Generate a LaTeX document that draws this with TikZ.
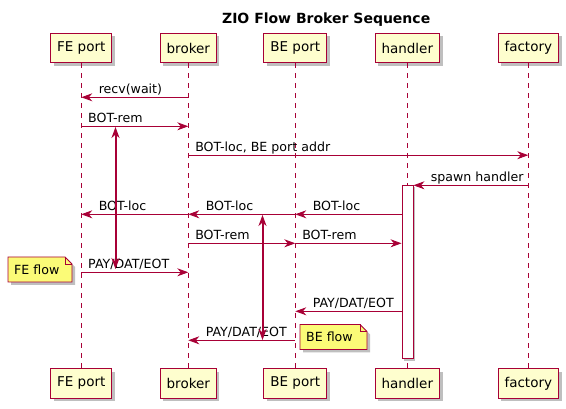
\documentclass[tikz,border=0pt]{standalone}
\usepackage{fontspec}
\setmainfont{DejaVu Sans}
\usetikzlibrary{arrows.meta, shadows, positioning}
\definecolor{umlred}{HTML}{A80036}
\definecolor{umlfill}{HTML}{FEFECE}
\definecolor{notefill}{HTML}{FBFB77}

\begin{document}
\begin{tikzpicture}[x=1pt, y=-1pt, >={Stealth[length=11pt, width=8pt, inset=3.5pt]}]
        \tikzstyle{part} = [rectangle, draw=umlred, fill=umlfill, line width=0.9pt, minimum height=29.5pt, inner xsep=6.5pt, font=\fontsize{13.5}{16}\selectfont, drop shadow={shadow xshift=3pt, shadow yshift=-3pt, opacity=0.25, fill=black}]
        \tikzstyle{life} = [draw=umlred, line width=0.8pt, dash pattern=on 5pt off 5pt]
        \tikzstyle{msg} = [draw=umlred, line width=0.9pt, ->]
        \tikzstyle{flow} = [draw=umlred, line width=2pt, <->]
        \tikzstyle{lbl} = [anchor=base west, yshift=4pt, inner sep=0pt, text=black, font=\fontsize{12.6}{15}\selectfont]
        \tikzstyle{actbar} = [rectangle, draw=umlred, fill=white, line width=0.9pt, minimum width=11pt, minimum height=173.5pt, inner sep=0pt, drop shadow={shadow xshift=2pt, shadow yshift=-2pt, opacity=0.25, fill=black}]
        \tikzstyle{note} = [draw=umlred, fill=notefill, line width=0.9pt, drop shadow={shadow xshift=3pt, shadow yshift=-3pt, opacity=0.25, fill=black}]
        \tikzstyle{notetext} = [anchor=west, inner sep=0pt, font=\fontsize{12.6}{15}\selectfont]

        \useasboundingbox (0,0) rectangle (566,409);

        \node [anchor=base, font=\fontsize{14}{16}\selectfont\bfseries] (title) at (326.2,23.3) {ZIO Flow Broker Sequence};

        % participants, top and bottom
        \node [part] (fe) at (81.3,48) {FE port};
        \node [part] (broker) at (188.3,48) {broker};
        \node [part] (bep) at (295.3,48) {BE port};
        \node [part] (handler) at (407.3,48) {handler};
        \node [part] (factory) at (528.3,48) {factory};

        \node [part] (feb) at (81.3,383.3) {FE port};
        \node [part] (brokerb) at (188.3,383.3) {broker};
        \node [part] (bepb) at (295.3,383.3) {BE port};
        \node [part] (handlerb) at (407.3,383.3) {handler};
        \node [part] (factoryb) at (528.3,383.3) {factory};

        \draw [life] (fe) -- (feb);
        \draw [life] (broker) -- (brokerb);
        \draw [life] (bep) -- (bepb);
        \draw [life] (handler) -- (handlerb);
        \draw [life] (factory) -- (factoryb);

        \node [actbar] (act) at (407.5,272) {};

        % message rows
        \coordinate (r1) at (0,97.3);
        \coordinate (r2) at (0,126.3);
        \coordinate (r3) at (0,155.2);
        \coordinate (r4) at (0,185.3);
        \coordinate (r5) at (0,214.3);
        \coordinate (r6) at (0,243.3);
        \coordinate (r7) at (0,272.3);
        \coordinate (r8) at (0,311.3);
        \coordinate (r9) at (0,340.3);

        \draw [msg] (broker |- r1) -- (fe |- r1) node [lbl, pos=1, xshift=17pt] {recv(wait)};
        \draw [msg] (fe |- r2) -- (broker |- r2) node [lbl, pos=0, xshift=6.5pt] {BOT-rem};
        \draw [msg] (broker |- r3) -- (factory |- r3) node [lbl, pos=0, xshift=6.5pt] {BOT-loc, BE port addr};
        \draw [msg] (factory |- r4) -- (act.east |- r4) node [lbl, pos=1, xshift=17pt] {spawn handler};
        \draw [msg] (act.west |- r5) -- (bep |- r5) node [lbl, pos=1, xshift=17pt] {BOT-loc};
        \draw [msg] (bep |- r5) -- (broker |- r5) node [lbl, pos=1, xshift=17pt] {BOT-loc};
        \draw [msg] (broker |- r5) -- (fe |- r5) node [lbl, pos=1, xshift=17pt] {BOT-loc};
        \draw [msg] (broker |- r6) -- (bep |- r6) node [lbl, pos=0, xshift=6.5pt] {BOT-rem};
        \draw [msg] (bep |- r6) -- (act.west |- r6) node [lbl, pos=0, xshift=6.5pt] {BOT-rem};
        \draw [msg] (fe |- r7) -- (broker |- r7) node [lbl, pos=0, xshift=6.5pt] {PAY/DAT/EOT};
        \draw [msg] (act.west |- r8) -- (bep |- r8) node [lbl, pos=1, xshift=17pt] {PAY/DAT/EOT};
        \draw [msg] (bep |- r9) -- (broker |- r9) node [lbl, pos=1, xshift=17pt] {PAY/DAT/EOT};

        % flows
        \coordinate (feflow1) at (115.5,127);
        \coordinate (feflow2) at (115.5,269);
        \coordinate (beflow1) at (262.5,215);
        \coordinate (beflow2) at (262.5,340);
        \draw [flow] (feflow1) -- (feflow2);
        \draw [flow] (beflow1) -- (beflow2);

        % notes
        \filldraw [note] (8,257) -- (65,257) -- (72,264) -- (72,282) -- (8,282) -- cycle;
        \draw [draw=umlred, line width=0.9pt] (65,257) -- (65,264) -- (72,264);
        \node [notetext] (fenote) at (14,269.5) {FE flow};

        \filldraw [note] (300,324.5) -- (360,324.5) -- (367,331.5) -- (367,349.5) -- (300,349.5) -- cycle;
        \draw [draw=umlred, line width=0.9pt] (360,324.5) -- (360,331.5) -- (367,331.5);
        \node [notetext] (benote) at (306,337) {BE flow};
    \end{tikzpicture}
\end{document}
